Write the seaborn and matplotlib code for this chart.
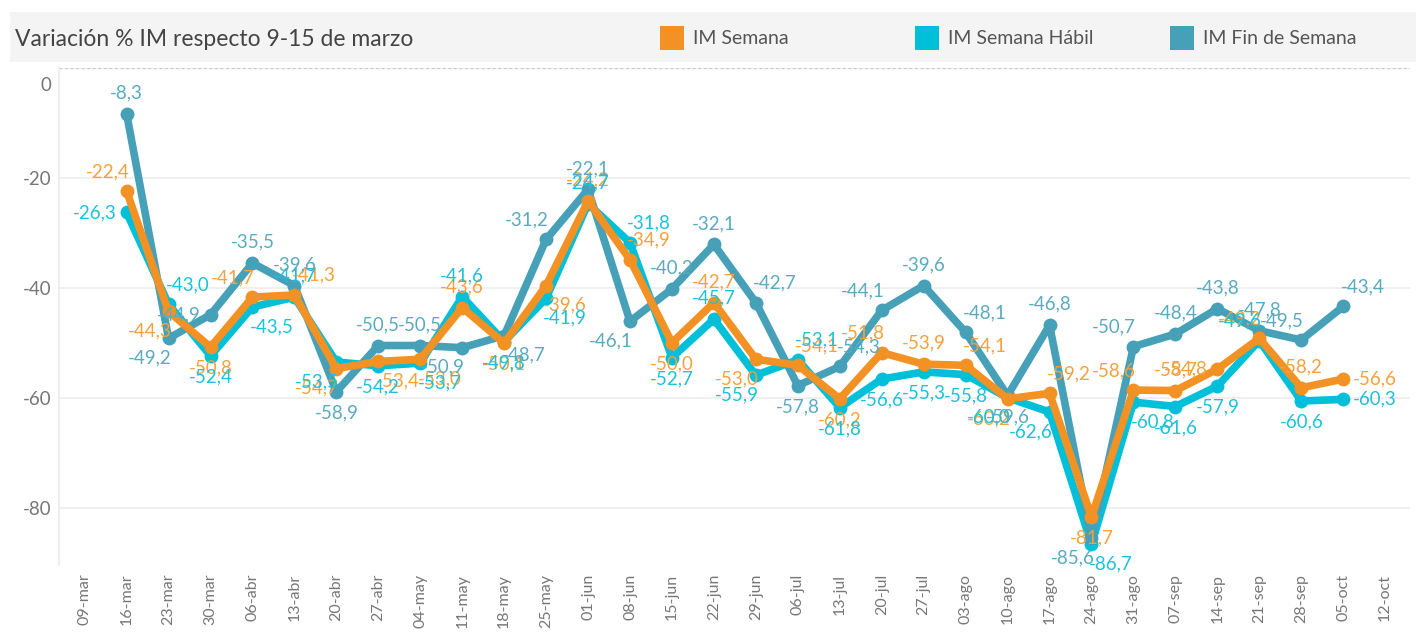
import numpy as np
import pandas as pd
import matplotlib.pyplot as plt
import matplotlib.transforms as mtrans
from matplotlib.patches import Rectangle
import seaborn as sns

# semanas (eje x) y valores de cada serie
semanas = ['09-mar', '16-mar', '23-mar', '30-mar', '06-abr', '13-abr', '20-abr', '27-abr',
           '04-may', '11-may', '18-may', '25-may', '01-jun', '08-jun', '15-jun', '22-jun',
           '29-jun', '06-jul', '13-jul', '20-jul', '27-jul', '03-ago', '10-ago', '17-ago',
           '24-ago', '31-ago', '07-sep', '14-sep', '21-sep', '28-sep', '05-oct', '12-oct']
semanas_datos = semanas[1:31]

im_semana = [-22.4, -44.3, -50.8, -41.7, -41.3, -54.7, -53.4, -53.0, -43.6, -50.1,
             -39.6, -24.2, -34.9, -50.0, -42.7, -53.0, -54.1, -60.2, -51.8, -53.9,
             -54.1, -60.2, -59.2, -81.7, -58.6, -58.7, -54.8, -49.2, -58.2, -56.6]
im_habil = [-26.3, -43.0, -52.4, -43.5, -41.7, -53.5, -54.2, -53.7, -41.6, -49.8,
            -41.9, -24.7, -31.8, -52.7, -45.7, -55.9, -53.1, -61.8, -56.6, -55.3,
            -55.8, -60.0, -62.6, -86.7, -60.8, -61.6, -57.9, -49.6, -60.6, -60.3]
im_finde = [-8.3, -49.2, -44.9, -35.5, -39.6, -58.9, -50.5, -50.5, -50.9, -48.7,
            -31.2, -22.1, -46.1, -40.2, -32.1, -42.7, -57.8, -54.3, -44.1, -39.6,
            -48.1, -59.6, -46.8, -85.6, -50.7, -48.4, -43.8, -47.8, -49.5, -43.4]

# ubicación de cada etiqueta (a=arriba, b=abajo, l/r=izq/der)
pos_semana = ['al', 'bl', 'b', 'al', 'ar', 'bl', 'br', 'br', 'a', 'b',
              'br', 'a', 'ar', 'b', 'a', 'bl', 'ar', 'b', 'al', 'a',
              'ar', 'bl', 'ar', 'b', 'al', 'a', 'l', 'al', 'a', 'r']
pos_habil = ['l', 'ar', 'b', 'br', 'a', 'bl', 'b', 'br', 'a', 'b',
             'br', 'a', 'ar', 'b', 'a', 'bl', 'ar', 'b', 'b', 'b',
             'b', 'bl', 'bl', 'br', 'br', 'b', 'b', 'al', 'b', 'r']
pos_finde = ['a', 'bl', 'l', 'a', 'a', 'b', 'a', 'a', 'bl', 'br',
             'al', 'a', 'bl', 'a', 'a', 'ar', 'b', 'ar', 'al', 'a',
             'ar', 'b', 'a', 'bl', 'al', 'a', 'a', 'a', 'al', 'ar']

series = ['IM Semana', 'IM Semana Hábil', 'IM Fin de Semana']
colores = {'IM Semana': '#f39224', 'IM Semana Hábil': '#00bfd8', 'IM Fin de Semana': '#46a0b8'}
col_texto = {'IM Semana': '#f3a23e', 'IM Semana Hábil': '#1cc2da', 'IM Fin de Semana': '#5aaac0'}
ubic = {'IM Semana': pos_semana, 'IM Semana Hábil': pos_habil, 'IM Fin de Semana': pos_finde}

pos = [semanas.index(s) for s in semanas_datos]
df = pd.concat([
    pd.DataFrame({'pos': pos, 'valor': im_semana, 'serie': 'IM Semana'}),
    pd.DataFrame({'pos': pos, 'valor': im_habil, 'serie': 'IM Semana Hábil'}),
    pd.DataFrame({'pos': pos, 'valor': im_finde, 'serie': 'IM Fin de Semana'}),
])

sns.set_theme(style='white')
plt.rcParams['font.family'] = ['Lato', 'DejaVu Sans']

fig = plt.figure(figsize=(14.16, 6.41), dpi=100)
ax = fig.add_axes([0.042, 0.118, 0.954, 0.776])

orden = ['IM Semana Hábil', 'IM Fin de Semana', 'IM Semana']
for s in orden:
    sns.lineplot(data=df[df['serie'] == s], x='pos', y='valor', color=colores[s],
                 linewidth=5.5, marker='o', markersize=10, markeredgewidth=0,
                 ax=ax, legend=False, zorder=3 + orden.index(s))

# etiquetas de valores
desp = {'a': ((0, 9), 'center', 'bottom'), 'b': ((0, -9), 'center', 'top'),
        'al': ((2, 8), 'right', 'bottom'), 'ar': ((-2, 8), 'left', 'bottom'),
        'bl': ((2, -8), 'right', 'top'), 'br': ((-2, -8), 'left', 'top'),
        'l': ((-7, 0), 'right', 'center'), 'r': ((7, 0), 'left', 'center')}
for s in series:
    d = df[df['serie'] == s].reset_index(drop=True)
    for (x, y), u in zip(zip(d['pos'], d['valor']), ubic[s]):
        txt = f'{y:.1f}'.replace('.', ',')
        off, ha, va = desp[u]
        ax.annotate(txt, (x, y), xytext=off, textcoords='offset points',
                    ha=ha, va=va, fontsize=13.5, color=col_texto[s], zorder=10)

ax.set_xlim(-0.6, 31.6)
ax.set_ylim(-90.5, 0)
ax.set_xticks(range(len(semanas)))
ax.set_xticklabels(semanas, rotation=90, fontsize=11.5, color='#777777')
ax.set_yticks([0, -20, -40, -60, -80])
ax.set_yticklabels(['0', '-20', '-40', '-60', '-80'], fontsize=13.5, color='#777777')
ax.tick_params(axis='both', length=0, pad=6)
ax.set_xlabel('')
ax.set_ylabel('')
for lbl in ax.get_yticklabels():
    if lbl.get_text() == '0':
        lbl.set_transform(lbl.get_transform() +
                          mtrans.ScaledTranslation(0, -0.16, fig.dpi_scale_trans))

ax.grid(axis='y', color='#ececec', linewidth=1.2)
ax.axhline(0, color='#c8c8c8', linestyle=(0, (2, 2)), linewidth=1, zorder=1)
ax.spines['top'].set_visible(False)
ax.spines['right'].set_visible(False)
ax.spines['bottom'].set_visible(False)
ax.spines['left'].set_color('#ececec')

# cabecera con título y leyenda
fig.patches.append(Rectangle((10 / 1416, 1 - 62 / 641), 1406 / 1416, 50 / 641,
                             transform=fig.transFigure, facecolor='#f4f4f4',
                             edgecolor='none', zorder=0))
fig.text(15 / 1416, 1 - 40 / 641, 'Variación % IM respecto 9-15 de marzo',
         fontsize=16.5, color='#444444', va='center', ha='left')
for s, x0 in zip(series, [660, 915, 1170]):
    fig.patches.append(Rectangle((x0 / 1416, 1 - 50 / 641), 24 / 1416, 24 / 641,
                                 transform=fig.transFigure, facecolor=colores[s],
                                 edgecolor='none'))
    fig.text((x0 + 33) / 1416, 1 - 39 / 641, s, fontsize=14, color='#555555',
             va='center', ha='left')

fig.savefig('out.png', dpi=100, facecolor='white')
